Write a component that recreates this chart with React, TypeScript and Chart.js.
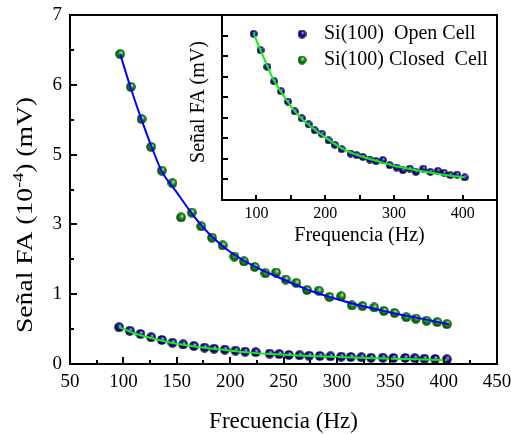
import React, { useEffect, useRef } from 'react';
import { Chart, registerables } from 'chart.js';

Chart.register(...registerables);

// ---------- data ----------
// Main chart y values are in axis-position units (0..5); tick labels are mapped below.
const yTickLabels = ['0', '1', '3', '5', '6', '7'];
const seriesNames = ['Si(100)  Open Cell', 'Si(100) Closed  Cell'];

const closedFreq = [97, 107, 117, 126, 136, 146, 154, 164, 173, 183, 193, 204, 213, 223, 233, 243, 252, 262, 272, 283, 293, 304, 314, 324, 335, 344, 354, 365, 374, 384, 394, 403];
const closedSignal = [4.44, 3.97, 3.51, 3.11, 2.77, 2.59, 2.10, 2.17, 1.97, 1.81, 1.70, 1.54, 1.47, 1.39, 1.30, 1.31, 1.21, 1.16, 1.06, 1.05, 0.96, 0.97, 0.84, 0.83, 0.81, 0.76, 0.73, 0.67, 0.65, 0.62, 0.60, 0.57];

const openFreq = [96, 106, 116, 126, 136, 146, 156, 166, 176, 185, 195, 205, 214, 224, 237, 246, 255, 265, 274, 284, 294, 304, 313, 323, 332, 343, 353, 364, 373, 382, 392, 403];
const openSignal = [0.526, 0.477, 0.43, 0.383, 0.344, 0.305, 0.281, 0.258, 0.235, 0.22, 0.206, 0.192, 0.178, 0.169, 0.149, 0.143, 0.129, 0.125, 0.119, 0.115, 0.11, 0.105, 0.1, 0.096, 0.09, 0.09, 0.086, 0.086, 0.082, 0.076, 0.072, 0.067];

const closedFitFreq = [97, 107, 117, 127, 136, 149, 166, 182, 197, 212, 228, 244, 259, 275, 291, 316, 347, 379, 405];
const closedFitSignal = [4.44, 3.95, 3.50, 3.09, 2.76, 2.48, 2.12, 1.84, 1.64, 1.49, 1.36, 1.25, 1.15, 1.05, 0.97, 0.86, 0.75, 0.65, 0.57];

const openFitFreq = [96, 110, 125, 140, 156, 172, 188, 204, 219, 238, 269, 300, 332, 363, 403];
const openFitSignal = [0.53, 0.44, 0.375, 0.32, 0.275, 0.24, 0.21, 0.185, 0.163, 0.143, 0.119, 0.1, 0.084, 0.07, 0.057];

// Inset (open cell, magnified; y in inset axis units 0..9)
const insetSignal = [8.09, 7.29, 6.48, 5.77, 5.29, 4.79, 4.31, 3.98, 3.68, 3.39, 3.23, 2.90, 2.69, 2.47, 2.26, 2.18, 2.09, 1.97, 1.89, 1.94, 1.69, 1.58, 1.45, 1.53, 1.37, 1.53, 1.37, 1.42, 1.32, 1.21, 1.24, 1.10];
const insetFitFreq = [96, 110, 125, 140, 160, 180, 200, 225, 250, 275, 300, 325, 350, 375, 403];
const insetFitSignal = [8.09, 6.97, 5.85, 5.05, 4.15, 3.55, 3.05, 2.5, 2.15, 1.9, 1.66, 1.5, 1.35, 1.22, 1.1];

const FAMILY = "'Liberation Serif', 'Times New Roman', serif";

type BallColors = { hi: string; mid: string; base: string; dark: string };
const BLUE: BallColors = { hi: '#ffffff', mid: '#6f6fd0', base: '#14148c', dark: '#00003c' };
const GREEN: BallColors = { hi: '#ffffff', mid: '#7cc87c', base: '#168c16', dark: '#003c00' };

function makeBall(d: number, c: BallColors) {
  const cv = document.createElement('canvas');
  cv.width = d;
  cv.height = d;
  const ctx = cv.getContext('2d')!;
  const g = ctx.createRadialGradient(d * 0.62, d * 0.34, 0, d / 2, d / 2, d / 2);
  g.addColorStop(0, c.hi);
  g.addColorStop(0.18, c.mid);
  g.addColorStop(0.45, c.base);
  g.addColorStop(1, c.dark);
  ctx.fillStyle = g;
  ctx.beginPath();
  ctx.arc(d / 2, d / 2, d / 2 - 0.2, 0, Math.PI * 2);
  ctx.fill();
  return cv;
}

const pts = (xs: number[], ys: number[]) => xs.map((x, i) => ({ x, y: ys[i] }));

export default function App() {
  const mainRef = useRef<HTMLCanvasElement>(null);
  const insetRef = useRef<HTMLCanvasElement>(null);

  useEffect(() => {
    const blueBall = makeBall(10, BLUE);
    const greenBall = makeBall(10, GREEN);
    const blueSmall = makeBall(8, BLUE);
    const greenLegend = makeBall(10, GREEN);

    const mainDecor = {
      id: 'mainDecor',
      afterDatasetsDraw(chart: any) {
        const { ctx, chartArea: a, scales } = chart;
        const xs = scales.x, ys = scales.y;
        ctx.save();
        ctx.strokeStyle = '#000';
        ctx.lineWidth = 2;
        ctx.beginPath();
        for (let v = 75; v < 450; v += 25) {
          const px = Math.round(xs.getPixelForValue(v));
          const len = v % 50 === 0 ? 7 : 4;
          ctx.moveTo(px, a.bottom);
          ctx.lineTo(px, a.bottom - len);
        }
        for (let v = 0.5; v < 5; v += 0.5) {
          const py = Math.round(ys.getPixelForValue(v));
          const len = Number.isInteger(v) ? 7 : 4;
          ctx.moveTo(a.left, py);
          ctx.lineTo(a.left + len, py);
        }
        ctx.stroke();
        ctx.strokeRect(a.left, a.top, a.right - a.left, a.bottom - a.top);

        ctx.fillStyle = '#000';
        ctx.font = `23px ${FAMILY}`;
        ctx.textAlign = 'center';
        ctx.textBaseline = 'alphabetic';
        ctx.fillText('Frecuencia (Hz)', (a.left + a.right) / 2, 428);

        // rotated y title with superscript, stretched along its length like the reference
        ctx.translate(32, 215);
        ctx.rotate(-Math.PI / 2);
        ctx.textAlign = 'left';
        const p1 = 'Señal FA (10', p2 = '-4', p3 = ') (mV)';
        ctx.font = `23px ${FAMILY}`;
        const w1 = ctx.measureText(p1).width, w3 = ctx.measureText(p3).width;
        ctx.font = `15px ${FAMILY}`;
        const w2 = ctx.measureText(p2).width;
        const total = w1 + w2 + w3;
        ctx.scale(236 / total, 1);
        let x0 = -total / 2;
        ctx.font = `23px ${FAMILY}`;
        ctx.fillText(p1, x0, 0);
        x0 += w1;
        ctx.font = `15px ${FAMILY}`;
        ctx.fillText(p2, x0, -9);
        x0 += w2;
        ctx.font = `23px ${FAMILY}`;
        ctx.fillText(p3, x0, 0);
        ctx.restore();
      },
    };

    const insetDecor = {
      id: 'insetDecor',
      afterDatasetsDraw(chart: any) {
        const { ctx, chartArea: a, scales } = chart;
        const xs = scales.x, ys = scales.y;
        ctx.save();
        ctx.strokeStyle = '#000';
        ctx.lineWidth = 2;
        ctx.beginPath();
        for (let v = 100; v < 450; v += 50) {
          const px = Math.round(xs.getPixelForValue(v));
          ctx.moveTo(px, a.bottom);
          ctx.lineTo(px, a.bottom - 5);
        }
        for (let v = 1; v < 9; v += 1) {
          const py = Math.round(ys.getPixelForValue(v));
          ctx.moveTo(a.left, py);
          ctx.lineTo(a.left + 6, py);
        }
        ctx.stroke();
        ctx.strokeRect(a.left, a.top, a.right - a.left, a.bottom - a.top);

        ctx.fillStyle = '#000';
        ctx.font = `20px ${FAMILY}`;
        ctx.textAlign = 'center';
        ctx.textBaseline = 'alphabetic';
        ctx.fillText('Frequencia (Hz)', (a.left + a.right) / 2, 241);

        ctx.save();
        ctx.translate(204, 102);
        ctx.rotate(-Math.PI / 2);
        ctx.fillText('Señal FA (mV)', 0, 0);
        ctx.restore();

        // legend
        ctx.drawImage(blueSmall, 302 - 4.5, 34 - 4.5, 9, 9);
        ctx.drawImage(greenLegend, 302 - 4.5, 60 - 4.5, 9, 9);
        ctx.textAlign = 'left';
        ctx.textBaseline = 'middle';
        ctx.font = `20px ${FAMILY}`;
        ctx.fillText(seriesNames[0], 324, 34);
        ctx.fillText(seriesNames[1], 324, 60);
        ctx.restore();
      },
    };

    const tickFont = (size: number) => ({ family: FAMILY, size });

    const main = new Chart(mainRef.current!, {
      type: 'scatter',
      data: {
        datasets: [
          {
            label: 'fit closed',
            data: pts(closedFitFreq, closedFitSignal),
            showLine: true,
            borderColor: '#0000ff',
            borderWidth: 2,
            pointRadius: 0,
            fill: false,
            cubicInterpolationMode: 'monotone',
            order: 0,
          },
          {
            label: 'fit open',
            data: pts(openFitFreq, openFitSignal),
            showLine: true,
            borderColor: '#11ee11',
            borderWidth: 2,
            pointRadius: 0,
            fill: false,
            cubicInterpolationMode: 'monotone',
            order: 0,
          },
          {
            label: seriesNames[1],
            data: pts(closedFreq, closedSignal),
            pointStyle: greenBall as any,
            pointRadius: 5,
            order: 1,
          },
          {
            label: seriesNames[0],
            data: pts(openFreq, openSignal),
            pointStyle: blueBall as any,
            pointRadius: 5,
            order: 1,
          },
        ],
      } as any,
      options: {
        responsive: false,
        animation: false,
        devicePixelRatio: 1,
        layout: { padding: { left: 0, top: 15, right: 14, bottom: 0 } },
        plugins: { legend: { display: false }, tooltip: { enabled: false } },
        events: [],
        scales: {
          x: {
            type: 'linear',
            min: 50,
            max: 450,
            grid: { display: false, drawTicks: false },
            border: { display: false },
            ticks: { stepSize: 50, autoSkip: false, maxRotation: 0, color: '#000', font: tickFont(19), padding: 7 },
            afterFit: (s: any) => { s.height = 70; s.paddingLeft = 0; s.paddingRight = 0; },
          },
          y: {
            type: 'linear',
            min: 0,
            max: 5,
            grid: { display: false, drawTicks: false },
            border: { display: false },
            ticks: {
              stepSize: 1,
              autoSkip: false,
              color: '#000',
              font: tickFont(19),
              padding: 8,
              callback: (v: any) => (Number.isInteger(v) ? yTickLabels[v] : ''),
            },
            afterFit: (s: any) => { s.width = 70; s.paddingTop = 0; s.paddingBottom = 0; },
          },
        },
      } as any,
      plugins: [mainDecor],
    });

    const inset = new Chart(insetRef.current!, {
      type: 'scatter',
      data: {
        datasets: [
          {
            label: 'fit inset',
            data: pts(insetFitFreq, insetFitSignal),
            showLine: true,
            borderColor: '#11ee11',
            borderWidth: 2,
            pointRadius: 0,
            fill: false,
            cubicInterpolationMode: 'monotone',
            order: 0,
          },
          {
            label: seriesNames[0],
            data: pts(openFreq, insetSignal),
            pointStyle: blueSmall as any,
            pointRadius: 4,
            order: 1,
          },
        ],
      } as any,
      options: {
        responsive: false,
        animation: false,
        devicePixelRatio: 1,
        layout: { padding: { left: 212, top: 15, right: 14, bottom: 184 } },
        plugins: { legend: { display: false }, tooltip: { enabled: false } },
        events: [],
        scales: {
          x: {
            type: 'linear',
            min: 50,
            max: 450,
            grid: { display: false, drawTicks: false },
            border: { display: false },
            ticks: {
              stepSize: 50,
              autoSkip: false,
              maxRotation: 0,
              color: '#000',
              font: tickFont(16),
              padding: 4,
              callback: (v: any) => (v % 100 === 0 ? String(v) : ''),
            },
            afterFit: (s: any) => { s.height = 50; s.paddingLeft = 0; s.paddingRight = 0; },
          },
          y: {
            type: 'linear',
            min: 0,
            max: 9,
            grid: { display: false, drawTicks: false },
            border: { display: false },
            ticks: { display: false, stepSize: 1 },
            afterFit: (s: any) => { s.width = 10; s.paddingTop = 0; s.paddingBottom = 0; },
          },
        },
      } as any,
      plugins: [insetDecor],
    });

    return () => {
      main.destroy();
      inset.destroy();
    };
  }, []);

  return (
    <div style={{ position: 'fixed', left: 0, top: 0, width: 511, height: 434, background: '#fff' }}>
      <canvas ref={mainRef} width={511} height={434} style={{ position: 'absolute', left: 0, top: 0 }} />
      <canvas ref={insetRef} width={511} height={434} style={{ position: 'absolute', left: 0, top: 0 }} />
    </div>
  );
}
